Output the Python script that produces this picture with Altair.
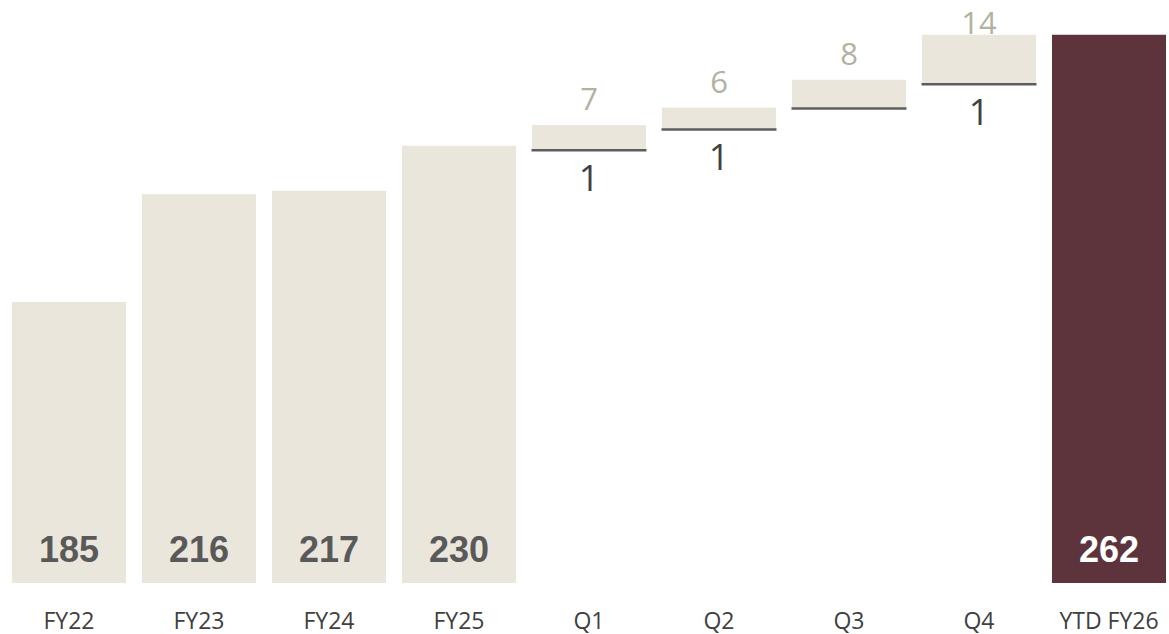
import altair as alt
import pandas as pd

categories = ["FY22", "FY23", "FY24", "FY25", "Q1", "Q2", "Q3", "Q4", "YTD FY26"]
annual_totals = {"FY22": 185, "FY23": 216, "FY24": 217, "FY25": 230}
quarters = ["Q1", "Q2", "Q3", "Q4"]
quarter_gain = [7, 6, 8, 14]
quarter_loss = [1, 1, 0, 1]
final_label = "YTD FY26"
final_total = 262

Y_MIN = 104
Y_MAX = 272

LIGHT = "#EAE6DC"
DARK = "#5E343C"

rows = []
for c, v in annual_totals.items():
    rows.append(dict(cat=c, lo=Y_MIN, hi=v, kind="total", tot_label=str(v),
                     gain_label="", loss_label=""))
start = annual_totals["FY25"]
for q, g, l in zip(quarters, quarter_gain, quarter_loss):
    lo = start - l
    hi = lo + g
    rows.append(dict(cat=q, lo=lo, hi=hi, kind="step", tot_label="",
                     gain_label=str(g), loss_label=str(l) if l else ""))
    start = hi
rows.append(dict(cat=final_label, lo=Y_MIN, hi=final_total, kind="final",
                 tot_label=str(final_total), gain_label="", loss_label=""))
df = pd.DataFrame(rows)

x = alt.X("cat:N", sort=categories,
          scale=alt.Scale(paddingInner=0.123, paddingOuter=0.0575, align=0.8),
          axis=alt.Axis(title=None, labelAngle=0, domain=False, ticks=False, grid=False,
                        labelFontSize=23, labelFont="Open Sans", labelColor="#404040",
                        labelPadding=27))
yscale = alt.Scale(domain=[Y_MIN, Y_MAX], zero=False, nice=False)

base = alt.Chart(df)

bars = base.mark_bar(clip=True).encode(
    x=x,
    y=alt.Y("lo:Q", scale=yscale, axis=None),
    y2="hi:Q",
    color=alt.Color("kind:N", scale=alt.Scale(domain=["total", "step", "final"],
                                             range=[LIGHT, LIGHT, DARK]), legend=None),
)

lines = base.transform_filter(alt.datum.kind == "step").mark_tick(
    orient="horizontal", size=115, thickness=2.5, color="#1A1A1A", yOffset=1
).encode(x=x, y=alt.Y("lo:Q", scale=yscale, axis=None))

gain_text = base.transform_filter(
    (alt.datum.gain_label != "") & (alt.datum.hi < 258)
).mark_text(
    baseline="bottom", dy=-8, fontSize=31, font="Open Sans", color="#B3B19F"
).encode(x=x, y=alt.Y("hi:Q", scale=yscale, axis=None), text="gain_label:N")

gain_text_top = base.transform_filter(
    (alt.datum.gain_label != "") & (alt.datum.hi >= 258)
).mark_text(
    baseline="bottom", dy=6, fontSize=31, font="Open Sans", color="#B3B19F"
).encode(x=x, y=alt.Y("hi:Q", scale=yscale, axis=None), text="gain_label:N")

loss_text = base.transform_filter(alt.datum.loss_label != "").mark_text(
    baseline="top", dy=14, fontSize=36, font="Open Sans", color="#404040"
).encode(x=x, y=alt.Y("lo:Q", scale=yscale, axis=None), text="loss_label:N")

tot_text = base.transform_filter(alt.datum.tot_label != "").mark_text(
    baseline="middle", dy=-32, fontSize=36, font="Liberation Sans", fontWeight="bold"
).encode(
    x=x, y=alt.Y("lo:Q", scale=yscale, axis=None), text="tot_label:N",
    color=alt.Color("kind:N", scale=alt.Scale(domain=["total", "final"],
                                             range=["#595959", "#FFFFFF"]), legend=None),
)

chart = alt.layer(bars, lines, gain_text, gain_text_top, loss_text, tot_text).resolve_scale(
    color="independent"
).properties(
    width=1169, height=583,
    background="white",
    autosize=alt.AutoSizeParams(type="none"),
    padding={"left": 0, "top": 0, "right": 0, "bottom": 51},
).configure_view(stroke=None)

chart.save("out.html", embed_options={"renderer": "svg", "actions": False})
